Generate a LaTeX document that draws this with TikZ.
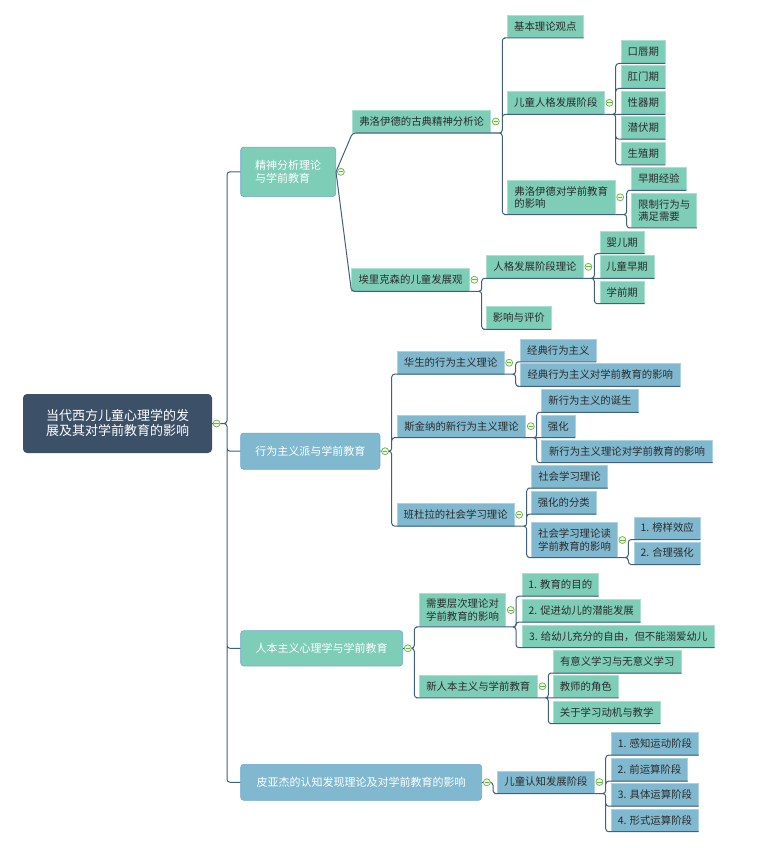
\documentclass[tikz,border=0pt]{standalone}
\usepackage{fontspec}
\setmainfont{Noto Sans CJK SC}
\usetikzlibrary{positioning}
\definecolor{vert}{HTML}{7ECDB6}
\definecolor{bleu}{HTML}{80B9CF}
\definecolor{racine}{HTML}{3C5068}
\definecolor{lien}{HTML}{40607F}
\definecolor{cadre}{HTML}{6FA6D6}
\definecolor{pli}{HTML}{6DB33F}
\definecolor{texte}{HTML}{2B2B2B}
\begin{document}
\begin{tikzpicture}[x=1pt, y=-1pt,
    root/.style={rectangle, rounded corners=4pt, fill=racine, text=white, inner sep=0pt, align=left, font=\fontsize{13pt}{15pt}\selectfont},
    topic/.style={rectangle, rounded corners=3pt, draw=cadre, line width=0.6pt, text=white, inner sep=0pt, align=left, font=\fontsize{11pt}{13.3pt}\selectfont},
    leaf/.style={rectangle, draw=white!35!#1, fill=#1, line width=0.5pt, text=texte, inner sep=0pt, minimum height=22.5pt, align=left, font=\fontsize{10.4pt}{12.5pt}\selectfont},
    gleaf/.style={leaf=vert}, bleaf/.style={leaf=bleu},
    link/.style={draw=lien, line width=1pt, rounded corners=3pt},
    fold/.style={circle, draw=pli, fill=pli!12, line width=0.7pt, inner sep=0pt, minimum size=7pt,
        path picture={\draw[pli, line width=0.8pt] ([xshift=1.2pt]path picture bounding box.west) -- ([xshift=-1.2pt]path picture bounding box.east);}}]
    \useasboundingbox (0,0) rectangle (760,848);

    % Racine et branches principales
    \node[root, minimum width=189pt, minimum height=59pt] (r) at (117.5,423.5) {当代西方儿童心理学的发\\展及其对学前教育的影响};
    \node[topic, fill=vert, minimum width=95pt, minimum height=49.5pt] (a) at (288.2,171.8) {精神分析理论\\与学前教育};
    \node[topic, fill=bleu, minimum width=139.3pt, minimum height=36.3pt] (b) at (310.3,451.2) {行为主义派与学前教育};
    \node[topic, fill=vert, minimum width=162pt, minimum height=35.3pt] (c) at (321.7,648.3) {人本主义心理学与学前教育};
    \node[topic, fill=bleu, minimum width=241pt, minimum height=36pt] (d) at (361.2,782.3) {皮亚杰的认知发现理论及对学前教育的影响};

    % Branche A
    \node[gleaf, minimum width=138pt] (a1) at (421.7,121.5) {弗洛伊德的古典精神分析论};
    \node[gleaf, minimum width=117.6pt] (a2) at (410.5,279.8) {埃里克森的儿童发展观};
    \node[gleaf, minimum width=76pt] (a11) at (545.3,26.5) {基本理论观点};
    \node[gleaf, minimum width=97pt] (a12) at (555.8,102.8) {儿童人格发展阶段};
    \node[gleaf, minimum width=107.7pt, minimum height=34pt] (a13) at (561.2,197.3) {弗洛伊德对学前教育\\的影响};
    \node[gleaf, minimum width=43.3pt] (a121) at (643.3,52) {口唇期};
    \node[gleaf, minimum width=43.3pt] (a122) at (643.3,77) {肛门期};
    \node[gleaf, minimum width=43.3pt] (a123) at (643.3,102.8) {性器期};
    \node[gleaf, minimum width=43.3pt] (a124) at (643.3,127.7) {潜伏期};
    \node[gleaf, minimum width=43.3pt] (a125) at (643.3,153.3) {生殖期};
    \node[gleaf, minimum width=54.3pt] (a131) at (658.8,178.8) {早期经验};
    \node[gleaf, minimum width=65pt, minimum height=34.4pt] (a132) at (664.2,210.5) {限制行为与\\满足需要};
    \node[gleaf, minimum width=96.6pt] (a21) at (535,266.8) {人格发展阶段理论};
    \node[gleaf, minimum width=64.3pt] (a22) at (518.8,317.8) {影响与评价};
    \node[gleaf, minimum width=44.3pt] (a211) at (622.2,242.2) {婴儿期};
    \node[gleaf, minimum width=54pt] (a212) at (627,266.8) {儿童早期};
    \node[gleaf, minimum width=44.3pt] (a213) at (622.2,292.2) {学前期};

    % Branche B
    \node[bleaf, minimum width=106.7pt] (b1) at (450.7,362.7) {华生的行为主义理论};
    \node[bleaf, minimum width=128.4pt] (b2) at (461.5,426.2) {斯金纳的新行为主义理论};
    \node[bleaf, minimum width=116.7pt] (b3) at (455.7,514.7) {班杜拉的社会学习理论};
    \node[bleaf, minimum width=75.3pt] (b11) at (558.3,350.3) {经典行为主义};
    \node[bleaf, minimum width=159.3pt] (b12) at (600.3,374.8) {经典行为主义对学前教育的影响};
    \node[bleaf, minimum width=96.6pt] (b21) at (590,400.8) {新行为主义的诞生};
    \node[bleaf, minimum width=33.3pt] (b22) at (558.3,426.2) {强化};
    \node[bleaf, minimum width=170.6pt] (b23) at (627,451.2) {新行为主义理论对学前教育的影响};
    \node[bleaf, minimum width=75.6pt] (b31) at (569.5,476.7) {社会学习理论};
    \node[bleaf, minimum width=64.3pt] (b32) at (563.8,502.5) {强化的分类};
    \node[bleaf, minimum width=85.6pt, minimum height=34.6pt] (b33) at (574.5,540) {社会学习理论读\\学前教育的影响};
    \node[bleaf, minimum width=65.7pt] (b331) at (667.2,528) {1. 榜样效应};
    \node[bleaf, minimum width=65.7pt] (b332) at (667.2,553) {2. 合理强化};

    % Branche C
    \node[gleaf, minimum width=86.4pt, minimum height=33.4pt] (c1) at (462.5,610) {需要层次理论对\\学前教育的影响};
    \node[gleaf, minimum width=118pt] (c2) at (478.3,686.3) {新人本主义与学前教育};
    \node[gleaf, minimum width=76pt] (c11) at (560.3,584.7) {1. 教育的目的};
    \node[gleaf, minimum width=117.7pt] (c12) at (581.2,610.5) {2. 促进幼儿的潜能发展};
    \node[gleaf, minimum width=192pt] (c13) at (618.3,636.2) {3. 给幼儿充分的自由，但不能溺爱幼儿};
    \node[gleaf, minimum width=127.7pt] (c21) at (617.2,661.5) {有意义学习与无意义学习};
    \node[gleaf, minimum width=65pt] (c22) at (585.8,686.3) {教师的角色};
    \node[gleaf, minimum width=106.7pt] (c23) at (606.7,712.2) {关于学习动机与教学};

    % Branche D
    \node[bleaf, minimum width=96.6pt] (d1) at (546,782) {儿童认知发展阶段};
    \node[bleaf, minimum width=86.6pt] (d11) at (655,743.7) {1. 感知运动阶段};
    \node[bleaf, minimum width=75.6pt] (d12) at (649.5,769.7) {2. 前运算阶段};
    \node[bleaf, minimum width=86.6pt] (d13) at (655,794.7) {3. 具体运算阶段};
    \node[bleaf, minimum width=86.6pt] (d14) at (655,820.2) {4. 形式运算阶段};

    % Abscisses des accolades
    \coordinate (kr) at (227,0);
    \coordinate (ka1) at (502.3,0);
    \coordinate (ka12) at (615.7,0);
    \coordinate (ka13) at (626.7,0);
    \coordinate (ka2) at (481.7,0);
    \coordinate (ka21) at (594.3,0);
    \coordinate (kb) at (391.7,0);
    \coordinate (kb1) at (515.7,0);
    \coordinate (kb2) at (536.7,0);
    \coordinate (kb3) at (526.7,0);
    \coordinate (kb33) at (628.3,0);
    \coordinate (kc) at (414.3,0);
    \coordinate (kc1) at (516,0);
    \coordinate (kc2) at (548.3,0);
    \coordinate (kd) at (493,0);
    \coordinate (kd1) at (605.7,0);

    % Liens depuis la racine
    \draw[link] (r.east) -- (r.east -| kr) |- (a.west)
                (r.east) -- (r.east -| kr) |- (b.west)
                (r.east) -- (r.east -| kr) |- (c.west)
                (r.east) -- (r.east -| kr) |- (d.west);

    % Liens de A
    \draw[link] (a.east) -- (a1.south west) -- (a1.south east)
                (a.east) -- (a2.south west) -- (a2.south east);
    \draw[link] (a1.south east) -- (a1.south east -| ka1) |- (a11.south west) -- (a11.south east)
                (a1.south east) -- (a1.south east -| ka1) |- (a12.south west) -- (a12.south east)
                (a1.south east) -- (a1.south east -| ka1) |- (a13.south west) -- (a13.south east);
    \draw[link] (a12.south east) -- (a12.south east -| ka12) |- (a121.south west) -- (a121.south east)
                (a12.south east) -- (a12.south east -| ka12) |- (a122.south west) -- (a122.south east)
                (a12.south east) -- (a123.south east)
                (a12.south east) -- (a12.south east -| ka12) |- (a124.south west) -- (a124.south east)
                (a12.south east) -- (a12.south east -| ka12) |- (a125.south west) -- (a125.south east);
    \draw[link] (a13.south east) -- (a13.south east -| ka13) |- (a131.south west) -- (a131.south east)
                (a13.south east) -- (a13.south east -| ka13) |- (a132.south west) -- (a132.south east);
    \draw[link] (a2.south east) -- (a2.south east -| ka2) |- (a21.south west) -- (a21.south east)
                (a2.south east) -- (a2.south east -| ka2) |- (a22.south west) -- (a22.south east);
    \draw[link] (a21.south east) -- (a21.south east -| ka21) |- (a211.south west) -- (a211.south east)
                (a21.south east) -- (a212.south east)
                (a21.south east) -- (a21.south east -| ka21) |- (a213.south west) -- (a213.south east);

    % Liens de B
    \draw[link] (b.east) -- (b.east -| kb) |- (b1.south west) -- (b1.south east)
                (b.east) -- (b.east -| kb) |- (b2.south west) -- (b2.south east)
                (b.east) -- (b.east -| kb) |- (b3.south west) -- (b3.south east);
    \draw[link] (b1.south east) -- (b1.south east -| kb1) |- (b11.south west) -- (b11.south east)
                (b1.south east) -- (b1.south east -| kb1) |- (b12.south west) -- (b12.south east);
    \draw[link] (b2.south east) -- (b2.south east -| kb2) |- (b21.south west) -- (b21.south east)
                (b2.south east) -- (b22.south east)
                (b2.south east) -- (b2.south east -| kb2) |- (b23.south west) -- (b23.south east);
    \draw[link] (b3.south east) -- (b3.south east -| kb3) |- (b31.south west) -- (b31.south east)
                (b3.south east) -- (b3.south east -| kb3) |- (b32.south west) -- (b32.south east)
                (b3.south east) -- (b3.south east -| kb3) |- (b33.south west) -- (b33.south east);
    \draw[link] (b33.south east) -- (b33.south east -| kb33) |- (b331.south west) -- (b331.south east)
                (b33.south east) -- (b33.south east -| kb33) |- (b332.south west) -- (b332.south east);

    % Liens de C
    \draw[link] (c.east) -- (c.east -| kc) |- (c1.south west) -- (c1.south east)
                (c.east) -- (c.east -| kc) |- (c2.south west) -- (c2.south east);
    \draw[link] (c1.south east) -- (c1.south east -| kc1) |- (c11.south west) -- (c11.south east)
                (c1.south east) -- (c1.south east -| kc1) |- (c12.south west) -- (c12.south east)
                (c1.south east) -- (c1.south east -| kc1) |- (c13.south west) -- (c13.south east);
    \draw[link] (c2.south east) -- (c2.south east -| kc2) |- (c21.south west) -- (c21.south east)
                (c2.south east) -- (c22.south east)
                (c2.south east) -- (c2.south east -| kc2) |- (c23.south west) -- (c23.south east);

    % Liens de D
    \draw[link] (d.east) -- (d.east -| kd) |- (d1.south west) -- (d1.south east);
    \draw[link] (d1.south east) -- (d1.south east -| kd1) |- (d11.south west) -- (d11.south east)
                (d1.south east) -- (d1.south east -| kd1) |- (d12.south west) -- (d12.south east)
                (d1.south east) -- (d1.south east -| kd1) |- (d13.south west) -- (d13.south east)
                (d1.south east) -- (d1.south east -| kd1) |- (d14.south west) -- (d14.south east);

    % Boutons de repli
    \node[fold, right=0.5pt of r] (mr) {};
    \node[fold, right=1pt of a] (ma) {};
    \node[fold, right=1pt of a1] (ma1) {};
    \node[fold, right=1pt of a12] (ma12) {};
    \node[fold, right=1pt of a13] (ma13) {};
    \node[fold, right=1pt of a2] (ma2) {};
    \node[fold, right=1pt of a21] (ma21) {};
    \node[fold, right=1pt of b] (mb) {};
    \node[fold, right=1pt of b1] (mb1) {};
    \node[fold, right=1pt of b2] (mb2) {};
    \node[fold, right=1pt of b3] (mb3) {};
    \node[fold, right=1pt of b33] (mb33) {};
    \node[fold, right=1pt of c] (mc) {};
    \node[fold, right=1pt of c1] (mc1) {};
    \node[fold, right=1pt of c2] (mc2) {};
    \node[fold, right=1pt of d] (md) {};
    \node[fold, right=1pt of d1] (md1) {};
\end{tikzpicture}
\end{document}
